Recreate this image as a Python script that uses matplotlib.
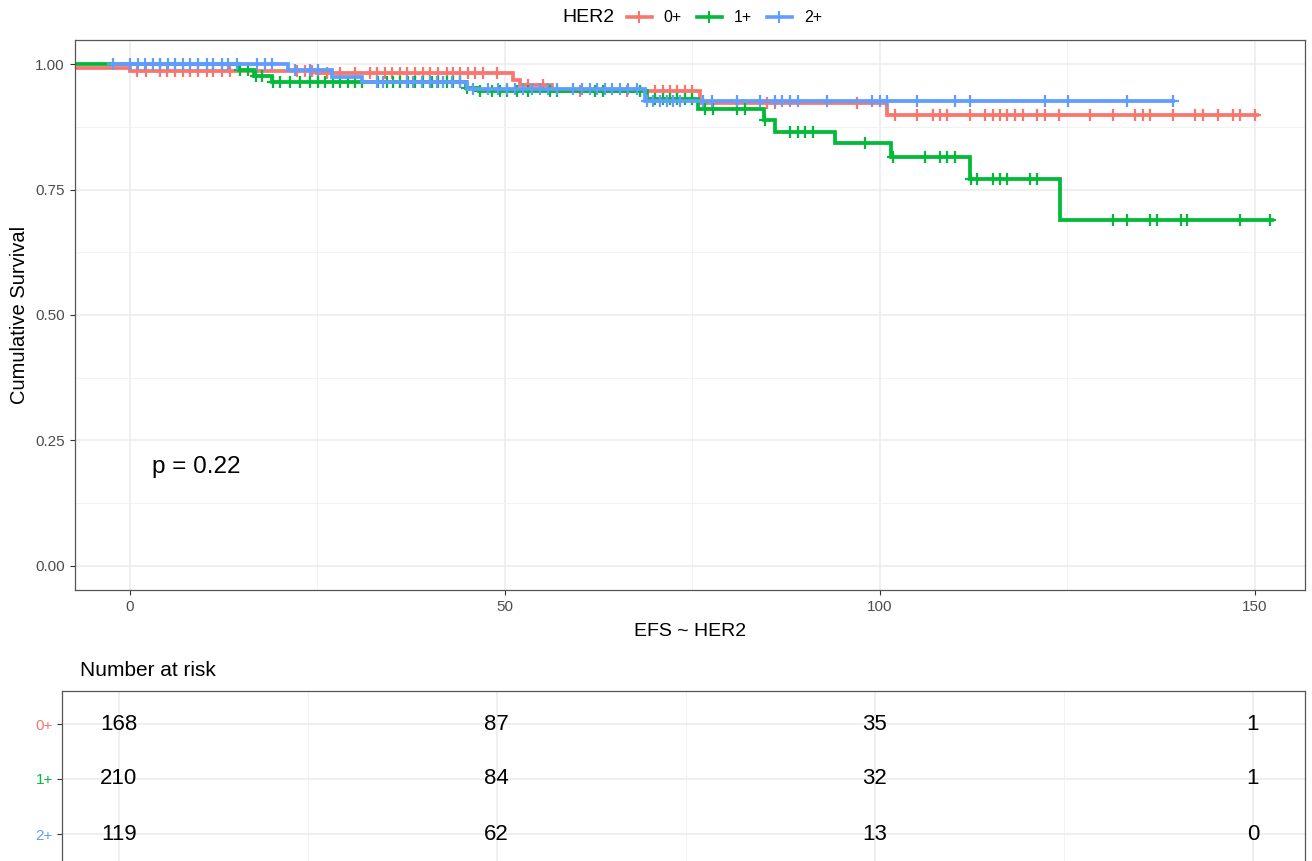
import matplotlib
matplotlib.use('Agg')
import matplotlib.pyplot as plt
import numpy as np
from matplotlib.lines import Line2D

plt.rcParams['font.family'] = ['Liberation Sans', 'DejaVu Sans']

groups = ['0+', '1+', '2+']
colors = ['#F8766D', '#00BA38', '#619CFF']

# Kaplan-Meier step functions (time of change, survival from that time)
red_times = [-7.3, 0.0, 25.0, 51.1, 52.0, 56.3, 76.0, 101.0]
red_surv = [0.993, 0.987, 0.982, 0.968, 0.958, 0.946, 0.923, 0.898]
red_end = 150.3
red_cens = [0.9, 2.1, 4.0, 4.9, 6.0, 7.1, 8.0, 9.1, 10.3, 11.1, 12.3, 13.3, 22.3, 23.3,
            24.3, 25.1, 26.3, 28.0, 30.0, 32.0, 32.9, 34.0, 34.9, 36.0, 36.9, 38.0, 39.1,
            40.0, 41.1, 42.3, 43.1, 44.0, 45.1, 46.0, 47.1, 48.9, 53.1, 55.1, 60.0, 66.3,
            70.0, 71.1, 72.0, 72.9, 74.0, 74.9, 84.9, 86.0, 96.9, 102.0, 104.9, 107.1,
            108.0, 108.9, 112.0, 114.0, 115.1, 116.0, 116.9, 118.0, 119.1, 120.9, 122.0,
            123.9, 128.0, 131.1, 134.0, 135.1, 136.0, 139.1, 142.0, 143.1, 145.1, 147.1,
            148.0, 150.0]

green_times = [-7.3, 14.5, 16.5, 19.0, 44.8, 46.5, 69.0, 75.7, 84.5, 86.0, 94.0, 101.5,
               112.0, 124.0]
green_surv = [1.0, 0.988, 0.977, 0.965, 0.953, 0.946, 0.930, 0.910, 0.888, 0.865, 0.842,
              0.815, 0.772, 0.689]
green_end = 152.3
green_cens = [4.0, 14.7, 15.7, 16.8, 17.6, 19.1, 20.0, 21.3, 22.7, 24.0, 25.1, 26.0, 27.1,
              28.0, 29.1, 30.0, 30.9, 33.1, 34.3, 35.1, 36.0, 37.1, 38.0, 39.1, 40.3, 41.1,
              42.3, 43.1, 44.0, 44.9, 46.7, 48.3, 49.3, 50.3, 51.6, 53.1, 56.0, 56.9, 62.0,
              63.1, 68.0, 70.0, 71.1, 72.0, 72.9, 74.0, 74.9, 76.7, 77.7, 80.9, 82.0, 84.7,
              88.0, 89.1, 90.0, 91.1, 98.0, 101.7, 106.0, 108.0, 108.9, 110.0, 112.1, 112.9,
              115.1, 116.0, 116.9, 120.0, 120.9, 131.1, 132.9, 136.0, 136.9, 140.1, 140.9,
              148.0, 152.0]

blue_times = [-2.3, 21.1, 26.9, 30.9, 44.9, 68.7]
blue_surv = [1.0, 0.988, 0.975, 0.965, 0.951, 0.926]
blue_end = 139.1
blue_cens = [-2.3, 0.0, 1.1, 2.0, 3.1, 4.0, 5.1, 6.0, 7.1, 8.0, 9.1, 10.3, 11.1, 12.3, 13.1,
             14.3, 16.9, 18.0, 18.9, 22.0, 24.0, 25.1, 32.9, 33.7, 36.9, 37.7, 38.9, 40.0,
             40.9, 41.7, 42.9, 44.0, 45.7, 47.7, 49.1, 50.3, 51.3, 52.4, 53.6, 54.7, 55.7,
             56.9, 59.1, 60.3, 61.3, 62.3, 63.3, 64.3, 65.3, 66.4, 67.6, 68.9, 69.7, 70.7,
             71.6, 72.4, 73.3, 76.4, 77.6, 80.9, 84.0, 86.0, 86.9, 88.0, 89.1, 92.9, 98.9,
             100.0, 100.9, 104.9, 110.0, 112.0, 122.0, 125.1, 132.9, 139.1]

risk_times = [0, 50, 100, 150]
risk_0 = [168, 87, 35, 1]
risk_1 = [210, 84, 32, 1]
risk_2 = [119, 62, 13, 0]

p_text = 'p = 0.22'

W, H = 1312, 861
fig = plt.figure(figsize=(W / 100, H / 100), dpi=100)

# ---------------- main KM panel ----------------
ax = fig.add_axes([75 / W, 1 - 590 / H, 1230 / W, 550 / H])
ax.set_xlim(-7.33, 156.67)
ax.set_ylim(-0.048, 1.048)
ax.set_xticks([0, 50, 100, 150])
ax.set_xticks([25, 75, 125], minor=True)
ax.set_yticks([0, 0.25, 0.5, 0.75, 1.0])
ax.set_yticklabels(['0.00', '0.25', '0.50', '0.75', '1.00'])
ax.set_yticks([0.125, 0.375, 0.625, 0.875], minor=True)
ax.grid(which='major', color='#EBEBEB', lw=1.1)
ax.grid(which='minor', color='#F2F2F2', lw=0.7)
ax.set_axisbelow(True)
for s in ax.spines.values():
    s.set_color('#555555')
    s.set_linewidth(0.9)
ax.tick_params(which='major', length=3.5, width=0.8, color='#333333',
               labelsize=11, labelcolor='#4D4D4D', pad=4)
ax.tick_params(which='minor', length=0)

series = [
    (red_times, red_surv, red_end, red_cens),
    (green_times, green_surv, green_end, green_cens),
    (blue_times, blue_surv, blue_end, blue_cens),
]
for (tt, ss, te, cc), col in zip(series, colors):
    xs = list(tt) + [te]
    ys = list(ss) + [ss[-1]]
    ax.step(xs, ys, where='post', color=col, lw=2.7, solid_joinstyle='miter')
    idx = np.searchsorted(np.array(tt), np.array(cc), side='right') - 1
    idx = np.clip(idx, 0, len(ss) - 1)
    cy = np.array(ss)[idx]
    ax.plot(cc, cy, ls='none', marker='+', ms=8.5, mew=1.6, color=col)

ax.text(3.0, 0.197, p_text, fontsize=17.5, ha='left', va='center', color='black')
ax.set_xlabel('EFS ~ HER2', fontsize=14, labelpad=6)
ax.set_ylabel('Cumulative Survival', fontsize=14.5, labelpad=4)

# legend
fig.text(562 / W, 1 - 18 / H, 'HER2', fontsize=14, ha='left', va='center')
handles = [Line2D([0], [0], color=c, lw=2.6, marker='+', ms=9, mew=1.5) for c in colors]
fig.legend(handles, groups, loc='center left', bbox_to_anchor=(627 / W, 1 - 18 / H),
           ncol=3, frameon=False, fontsize=11.5, handlelength=1.55, handletextpad=0.75,
           columnspacing=0.95, borderpad=0, borderaxespad=0)

# ---------------- risk table ----------------
fig.text(80 / W, 1 - 670 / H, 'Number at risk', fontsize=15, ha='left', va='center')
ax2 = fig.add_axes([62 / W, 1 - 867 / H, 1243 / W, 176 / H])
ax2.set_xlim(-7.5, 156.9)
ax2.set_ylim(0.4, 3.6)
ax2.set_xticks([0, 50, 100, 150])
ax2.set_xticks([25, 75, 125], minor=True)
ax2.set_xticklabels([])
ax2.set_yticks([3, 2, 1])
ax2.set_yticklabels(groups)
for lab, col in zip(ax2.get_yticklabels(), colors):
    lab.set_color(col)
ax2.grid(which='major', color='#EBEBEB', lw=1.1)
ax2.grid(which='minor', axis='x', color='#F2F2F2', lw=0.7)
ax2.set_axisbelow(True)
for s in ax2.spines.values():
    s.set_color('#555555')
    s.set_linewidth(0.9)
ax2.tick_params(which='major', length=3.5, width=0.8, color='#333333', labelsize=11, pad=3)
ax2.tick_params(axis='x', which='both', length=0)
ax2.tick_params(which='minor', length=0)

for row, vals in zip([3, 2, 1], [risk_0, risk_1, risk_2]):
    for t, v in zip(risk_times, vals):
        ax2.text(t, row, str(v), fontsize=16, ha='center', va='center', color='black')

fig.savefig('out.png', dpi=100)
